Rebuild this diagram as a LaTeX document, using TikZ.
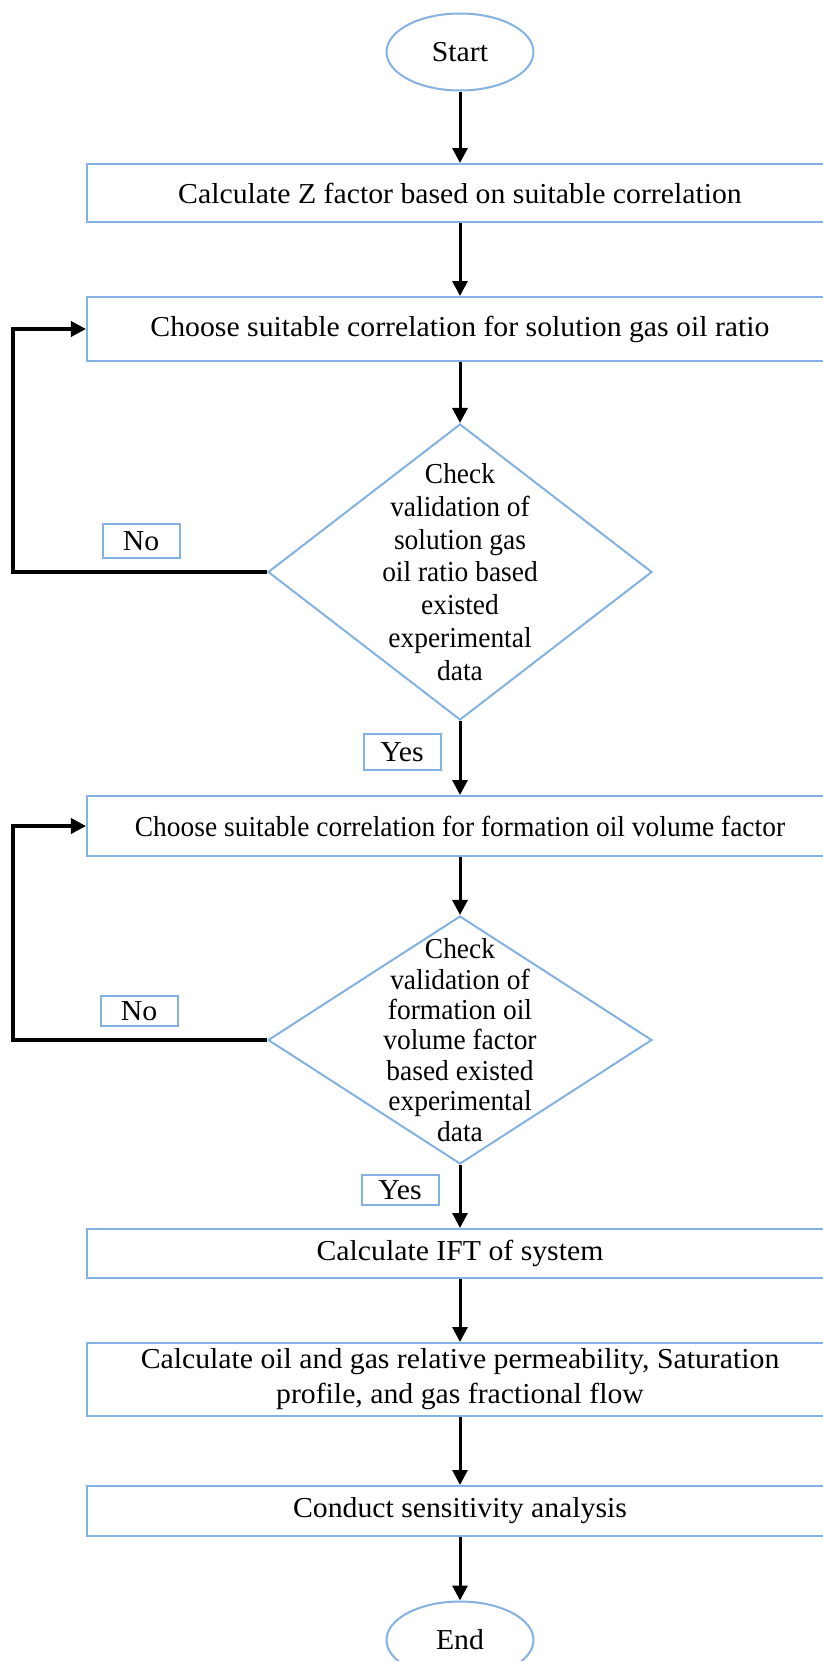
\documentclass[tikz,border=0pt]{standalone}
\usepackage{fontspec}
\setmainfont{Liberation Serif}[FakeStretch=1.03]
\newfontfamily\diafont{Liberation Serif}[FakeStretch=0.95]
\usetikzlibrary{shapes.geometric,arrows.meta}
\definecolor{boxblue}{RGB}{131,178,226}
\begin{document}
\begin{tikzpicture}[x=1bp,y=-1bp,
  every node/.style={font=\fontsize{29}{33}\selectfont},
  procbox/.style={draw=boxblue, line width=2bp, rectangle, minimum width=746bp, inner sep=0pt, align=center},
  term/.style={draw=boxblue, line width=2bp, ellipse, minimum width=147bp, minimum height=77bp, inner sep=0pt},
  dia/.style={draw=boxblue, line width=2bp, diamond, minimum width=384bp, inner sep=0pt},
  dtext/.style={align=center, inner sep=0pt, font=\diafont\fontsize{29}{33}\selectfont},
  tag/.style={draw=boxblue, line width=2bp, rectangle, inner sep=0pt, minimum width=77bp},
  flow/.style={draw=black, line width=3bp, -{Triangle[length=15bp,width=15bp]}},
  back/.style={draw=black, line width=3.5bp, line join=miter, -{Triangle[length=15bp,width=15bp]}},
]
\useasboundingbox (0,0) rectangle (823,1661);

\node[term] (start) at (460,52) {Start};
\node[procbox, minimum height=58bp] (b1) at (460,193) {Calculate Z factor based on suitable correlation};
\node[procbox, minimum height=64bp] (b2) at (460,329) {Choose suitable correlation for solution gas oil ratio};
\node[dia, minimum height=296bp, label={[dtext]center:{Check\\validation of\\solution gas\\oil ratio based\\existed\\experimental\\data}}] (d1) at (460,572) {};
\node[tag, minimum height=34bp] (no1) at (141,541) {No};
\node[tag, minimum height=36bp] (yes1) at (402,752) {Yes};
\node[procbox, minimum height=60bp, font=\diafont\fontsize{29}{33}\selectfont] (b3) at (460,826) {Choose suitable correlation for formation oil volume factor};
\node[dia, minimum height=248bp, label={[dtext, font=\diafont\fontsize{29}{30.5}\selectfont]center:{Check\\validation of\\formation oil\\volume factor\\based existed\\experimental\\data}}] (d2) at (460,1040) {};
\node[tag, minimum height=30bp] (no2) at (139,1011) {No};
\node[tag, minimum height=30bp] (yes2) at (400,1190) {Yes};
\node[procbox, minimum height=49bp] (b4) at (460,1253.5) {Calculate IFT of system};
\node[procbox, minimum height=73bp, font=\fontsize{29}{35}\selectfont] (b5) at (460,1379.5) {Calculate oil and gas relative permeability, Saturation\\profile, and gas fractional flow};
\node[procbox, minimum height=50bp] (b6) at (460,1511) {Conduct sensitivity analysis};
\node[term] (end) at (460,1640) {End};

\coordinate (lx) at (13,0);

\draw[flow] (start) -- (b1);
\draw[flow] (b1) -- (b2);
\draw[flow] (b2) -- (d1);
\draw[flow] (d1) -- (b3);
\draw[flow] (b3) -- (d2);
\draw[flow] (d2) -- (b4);
\draw[flow] (b4) -- (b5);
\draw[flow] (b5) -- (b6);
\draw[flow] (b6) -- (end);

\draw[back] (d1.west) -- (d1.west -| lx) |- (b2.west);
\draw[back] (d2.west) -- (d2.west -| lx) |- (b3.west);
\end{tikzpicture}
\end{document}
